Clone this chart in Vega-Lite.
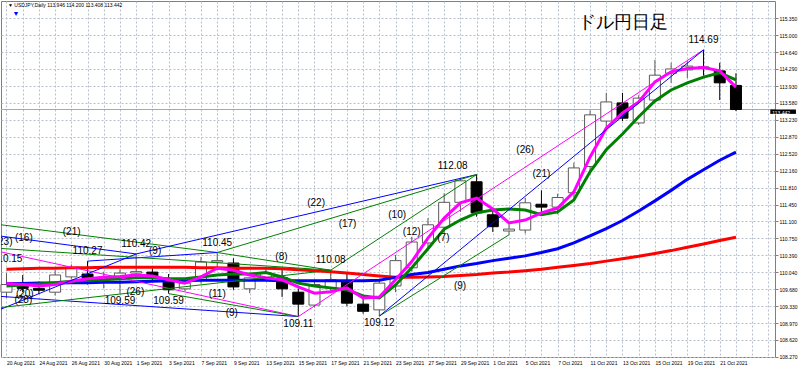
{
  "$schema": "https://vega.github.io/schema/vega-lite/v6.json",
  "width": 774,
  "height": 356,
  "autosize": {"type": "none"},
  "padding": {"left": 1, "top": 1, "right": 25, "bottom": 12},
  "background": "white",
  "config": {
    "view": {"stroke": "#7f7f7f", "strokeWidth": 1},
    "font": "Liberation Sans",
    "axis": {"gridColor": "#b7bfcc", "gridDash": [2, 2], "gridWidth": 1, "gridOpacity": 1, "domain": false, "labelFontSize": 5, "labelFont": "Liberation Sans", "labelColor": "#000000", "labelOverlap": false, "labelFlush": false, "labelBound": false, "title": null}
  },
  "datasets": {
    "c": [
      {"i":0,"d":"2021-08-20","o":109.62,"h":110.02,"l":109.50,"c":109.78,"m":109.80,"g":109.75,"b":109.80,"r":110.10},
      {"i":1,"d":"2021-08-23","o":109.80,"h":109.98,"l":109.62,"c":109.70,"m":109.78,"g":109.77,"b":109.80,"r":110.11},
      {"i":2,"d":"2021-08-24","o":109.70,"h":109.84,"l":109.58,"c":109.66,"m":109.75,"g":109.79,"b":109.81,"r":110.12},
      {"i":3,"d":"2021-08-25","o":109.62,"h":110.08,"l":109.55,"c":109.98,"m":109.78,"g":109.82,"b":109.81,"r":110.12},
      {"i":4,"d":"2021-08-26","o":109.94,"h":110.20,"l":109.90,"c":110.13,"m":109.85,"g":109.85,"b":109.82,"r":110.13},
      {"i":5,"d":"2021-08-27","o":110.00,"h":110.27,"l":109.78,"c":109.92,"m":109.90,"g":109.87,"b":109.82,"r":110.13},
      {"i":6,"d":"2021-08-30","o":109.88,"h":110.05,"l":109.70,"c":109.93,"m":109.93,"g":109.88,"b":109.83,"r":110.14},
      {"i":7,"d":"2021-08-31","o":109.92,"h":110.10,"l":109.59,"c":110.02,"m":109.95,"g":109.90,"b":109.83,"r":110.14},
      {"i":8,"d":"2021-09-01","o":110.02,"h":110.42,"l":109.92,"c":110.05,"m":109.98,"g":109.92,"b":109.84,"r":110.14},
      {"i":9,"d":"2021-09-02","o":110.04,"h":110.12,"l":109.86,"c":109.93,"m":109.96,"g":109.92,"b":109.85,"r":110.14},
      {"i":10,"d":"2021-09-03","o":109.87,"h":110.00,"l":109.59,"c":109.67,"m":109.88,"g":109.90,"b":109.86,"r":110.14},
      {"i":11,"d":"2021-09-06","o":109.69,"h":109.92,"l":109.65,"c":109.81,"m":109.81,"g":109.90,"b":109.86,"r":110.14},
      {"i":12,"d":"2021-09-07","o":109.88,"h":110.36,"l":109.80,"c":110.25,"m":109.94,"g":109.94,"b":109.87,"r":110.13},
      {"i":13,"d":"2021-09-08","o":110.25,"h":110.45,"l":110.15,"c":110.28,"m":110.12,"g":109.98,"b":109.87,"r":110.13},
      {"i":14,"d":"2021-09-09","o":110.23,"h":110.33,"l":109.67,"c":109.73,"m":110.08,"g":110.00,"b":109.87,"r":110.12},
      {"i":15,"d":"2021-09-10","o":109.69,"h":109.93,"l":109.60,"c":109.92,"m":109.98,"g":110.00,"b":109.87,"r":110.12},
      {"i":16,"d":"2021-09-13","o":109.90,"h":110.12,"l":109.85,"c":110.02,"m":109.92,"g":110.03,"b":109.87,"r":110.12},
      {"i":17,"d":"2021-09-14","o":109.92,"h":110.13,"l":109.52,"c":109.69,"m":109.88,"g":109.94,"b":109.86,"r":110.11},
      {"i":18,"d":"2021-09-15","o":109.62,"h":109.70,"l":109.11,"c":109.37,"m":109.73,"g":109.81,"b":109.86,"r":110.09},
      {"i":19,"d":"2021-09-16","o":109.35,"h":109.88,"l":109.30,"c":109.78,"m":109.60,"g":109.75,"b":109.86,"r":110.07},
      {"i":20,"d":"2021-09-17","o":109.71,"h":110.08,"l":109.65,"c":109.88,"m":109.63,"g":109.71,"b":109.86,"r":110.05},
      {"i":21,"d":"2021-09-20","o":109.83,"h":110.04,"l":109.33,"c":109.39,"m":109.71,"g":109.67,"b":109.86,"r":110.02},
      {"i":22,"d":"2021-09-21","o":109.37,"h":109.52,"l":109.17,"c":109.22,"m":109.50,"g":109.54,"b":109.86,"r":109.99},
      {"i":23,"d":"2021-09-22","o":109.25,"h":109.88,"l":109.12,"c":109.81,"m":109.52,"g":109.50,"b":109.87,"r":109.96},
      {"i":24,"d":"2021-09-23","o":109.75,"h":110.40,"l":109.62,"c":110.28,"m":109.88,"g":109.77,"b":109.93,"r":109.93},
      {"i":25,"d":"2021-09-24","o":110.13,"h":110.78,"l":110.05,"c":110.67,"m":110.26,"g":110.13,"b":109.99,"r":109.93},
      {"i":26,"d":"2021-09-27","o":110.65,"h":111.17,"l":110.55,"c":111.03,"m":110.75,"g":110.53,"b":110.03,"r":109.94},
      {"i":27,"d":"2021-09-28","o":110.98,"h":111.69,"l":110.85,"c":111.50,"m":111.17,"g":110.94,"b":110.10,"r":109.95},
      {"i":28,"d":"2021-09-29","o":111.50,"h":112.00,"l":111.30,"c":111.95,"m":111.49,"g":111.13,"b":110.17,"r":109.97},
      {"i":29,"d":"2021-09-30","o":111.93,"h":112.08,"l":111.20,"c":111.28,"m":111.59,"g":111.28,"b":110.22,"r":109.99},
      {"i":30,"d":"2021-10-01","o":111.24,"h":111.38,"l":110.88,"c":110.99,"m":111.36,"g":111.34,"b":110.28,"r":110.02},
      {"i":31,"d":"2021-10-04","o":110.90,"h":111.09,"l":110.82,"c":110.94,"m":111.07,"g":111.36,"b":110.33,"r":110.04},
      {"i":32,"d":"2021-10-05","o":110.92,"h":111.59,"l":110.85,"c":111.49,"m":111.13,"g":111.34,"b":110.38,"r":110.07},
      {"i":33,"d":"2021-10-06","o":111.46,"h":111.75,"l":111.28,"c":111.40,"m":111.28,"g":111.24,"b":110.45,"r":110.10},
      {"i":34,"d":"2021-10-07","o":111.40,"h":111.68,"l":111.25,"c":111.60,"m":111.38,"g":111.30,"b":110.53,"r":110.14},
      {"i":35,"d":"2021-10-08","o":111.70,"h":112.33,"l":111.60,"c":112.22,"m":111.72,"g":111.55,"b":110.65,"r":110.18},
      {"i":36,"d":"2021-10-11","o":112.25,"h":113.42,"l":112.10,"c":113.33,"m":112.45,"g":112.14,"b":110.80,"r":110.22},
      {"i":37,"d":"2021-10-12","o":113.20,"h":113.79,"l":113.05,"c":113.60,"m":113.05,"g":112.60,"b":110.95,"r":110.27},
      {"i":38,"d":"2021-10-13","o":113.58,"h":113.79,"l":113.20,"c":113.26,"m":113.37,"g":112.93,"b":111.12,"r":110.32},
      {"i":39,"d":"2021-10-14","o":113.16,"h":113.74,"l":113.12,"c":113.68,"m":113.60,"g":113.29,"b":111.32,"r":110.37},
      {"i":40,"d":"2021-10-15","o":113.64,"h":114.48,"l":113.60,"c":114.16,"m":114.02,"g":113.62,"b":111.53,"r":110.43},
      {"i":41,"d":"2021-10-18","o":114.20,"h":114.42,"l":114.00,"c":114.29,"m":114.23,"g":113.85,"b":111.75,"r":110.49},
      {"i":42,"d":"2021-10-19","o":114.27,"h":114.45,"l":114.10,"c":114.35,"m":114.30,"g":114.00,"b":111.98,"r":110.56},
      {"i":43,"d":"2021-10-20","o":114.33,"h":114.69,"l":114.15,"c":114.30,"m":114.32,"g":114.12,"b":112.18,"r":110.63},
      {"i":44,"d":"2021-10-21","o":114.25,"h":114.42,"l":113.64,"c":114.00,"m":114.25,"g":114.21,"b":112.38,"r":110.70},
      {"i":45,"d":"2021-10-22","o":113.946,"h":114.20,"l":113.408,"c":113.442,"m":113.91,"g":114.06,"b":112.55,"r":110.77}
    ],
    "tl": [
      {"g":"T1","c":"b","i":-7,"v":111.09},{"g":"T1","c":"b","i":8,"v":110.42},
      {"g":"T2","c":"g","i":-7,"v":111.32},{"g":"T2","c":"g","i":13,"v":110.45},
      {"g":"T3","c":"b","i":-9,"v":109.73},{"g":"T3","c":"b","i":18,"v":109.11},
      {"g":"T4","c":"m","i":-3,"v":110.66},{"g":"T4","c":"m","i":18,"v":109.11},
      {"g":"T5","c":"b","i":5,"v":110.27},{"g":"T5","c":"b","i":13,"v":110.45},
      {"g":"T6","c":"g","i":13,"v":110.45},{"g":"T6","c":"g","i":20,"v":110.08},
      {"g":"T7","c":"c","i":8,"v":110.42},{"g":"T7","c":"c","i":18,"v":109.11},
      {"g":"T8","c":"g","i":10,"v":109.59},{"g":"T8","c":"g","i":18,"v":109.11},
      {"g":"T9","c":"b","i":8,"v":110.42},{"g":"T9","c":"b","i":29,"v":112.08},
      {"g":"T10","c":"g","i":13,"v":110.45},{"g":"T10","c":"g","i":29,"v":112.08},
      {"g":"T11","c":"g","i":20,"v":110.08},{"g":"T11","c":"g","i":29,"v":112.08},
      {"g":"T12","c":"c","i":18,"v":109.11},{"g":"T12","c":"c","i":29,"v":112.08},
      {"g":"T13","c":"c","i":23,"v":109.12},{"g":"T13","c":"c","i":29,"v":112.08},
      {"g":"T14","c":"g","i":23,"v":109.12},{"g":"T14","c":"g","i":31,"v":110.82},
      {"g":"T15","c":"m","i":18,"v":109.11},{"g":"T15","c":"m","i":43,"v":114.69},
      {"g":"T16","c":"b","i":23,"v":109.12},{"g":"T16","c":"b","i":43,"v":114.69},
      {"g":"T17","c":"b","i":-5,"v":108.62},{"g":"T17","c":"b","i":8,"v":110.42},
      {"g":"T18","c":"c","i":-9,"v":110.9},{"g":"T18","c":"c","i":10,"v":109.59},
      {"g":"T19","c":"g","i":-5,"v":109.12},{"g":"T19","c":"g","i":20,"v":110.08},
      {"g":"T20","c":"g","i":-1,"v":110.55},{"g":"T20","c":"g","i":20,"v":110.08}
    ],
    "pv": [
      {"t":"110.27","i":5,"v":110.27,"k":"h"},
      {"t":"110.42","i":8,"v":110.42,"k":"h"},
      {"t":"109.59","i":7,"v":109.59,"k":"l"},
      {"t":"109.59","i":10,"v":109.59,"k":"l"},
      {"t":"110.45","i":13,"v":110.45,"k":"h"},
      {"t":"109.11","i":18,"v":109.11,"k":"l"},
      {"t":"110.08","i":20,"v":110.08,"k":"h"},
      {"t":"109.12","i":23,"v":109.12,"k":"l"},
      {"t":"112.08","i":29,"v":112.08,"k":"hr"},
      {"t":"114.69","i":43,"v":114.69,"k":"h"}
    ],
    "lab": [
      {"t":"(23)","i":-0.18,"v":110.67},
      {"t":"(16)","i":1.07,"v":110.754},
      {"t":"(21)","i":4.02,"v":110.88},
      {"t":"110.15","i":0.06,"v":110.31},
      {"t":"(20)","i":1.13,"v":109.58},
      {"t":"(28)","i":1.04,"v":109.46},
      {"t":"(26)","i":7.95,"v":109.62},
      {"t":"(9)","i":9.17,"v":110.48},
      {"t":"(11)","i":13.0,"v":109.58},
      {"t":"(9)","i":13.9,"v":109.18},
      {"t":"(8)","i":16.96,"v":110.36},
      {"t":"(22)","i":19.1,"v":111.48},
      {"t":"(17)","i":21.04,"v":111.05},
      {"t":"(10)","i":24.1,"v":111.24},
      {"t":"(12)","i":25.0,"v":110.88},
      {"t":"(7)","i":26.95,"v":110.75},
      {"t":"(9)","i":27.98,"v":109.75},
      {"t":"(26)","i":32.0,"v":112.6},
      {"t":"(21)","i":33.0,"v":112.09}
    ]
  },
  "layer": [
    {
      "data": {"name": "c"},
      "mark": {"type": "rule", "strokeWidth": 1},
      "encoding": {
        "x": {"field": "i", "type": "quantitative", "title": null, "scale": {"domain": [-0.03, 47.1], "nice": false, "zero": false},
          "axis": {"orient": "bottom", "values": [0,1,2,3,4,5,6,7,8,9,10,11,12,13,14,15,16,17,18,19,20,21,22,23,24,25,26,27,28,29,30,31,32,33,34,35,36,37,38,39,40,41,42,43,44,45,46,47], "grid": true, "ticks": false, "labelAlign": "left", "labelPadding": 3,
            "labelExpr": "datum.value % 2 == 0 ? ['20 Aug 2021','24 Aug 2021','26 Aug 2021','30 Aug 2021','1 Sep 2021','3 Sep 2021','7 Sep 2021','9 Sep 2021','13 Sep 2021','15 Sep 2021','17 Sep 2021','21 Sep 2021','23 Sep 2021','27 Sep 2021','29 Sep 2021','1 Oct 2021','5 Oct 2021','7 Oct 2021','11 Oct 2021','13 Oct 2021','15 Oct 2021','19 Oct 2021','21 Oct 2021','',''][datum.value / 2] : ''"}},
        "y": {"field": "l", "type": "quantitative", "title": null, "scale": {"domain": [108.264, 115.712], "nice": false, "zero": false},
          "axis": {"orient": "right", "values": [115.35,115.0,114.64,114.29,113.93,113.58,113.23,112.87,112.52,112.16,111.81,111.45,111.1,110.75,110.39,110.04,109.68,109.33,108.97,108.62,108.27], "format": ".3f", "grid": true, "ticks": true, "tickSize": 3, "tickColor": "#808080", "labelAlign": "left", "labelBaseline": "middle", "labelPadding": 1}},
        "y2": {"field": "h"},
        "color": {"condition": {"test": "datum.c >= datum.o", "value": "#5a5a5a"}, "value": "#000000"}
      }
    },
    {
      "data": {"values": [{"v": 113.442}]},
      "mark": {"type": "rule", "color": "#a8a8a8", "strokeWidth": 1},
      "encoding": {"y": {"field": "v", "type": "quantitative", "title": null, "scale": {"domain": [108.264, 115.712], "nice": false, "zero": false},
        "axis": {"orient": "right", "values": [115.35,115.0,114.64,114.29,113.93,113.58,113.23,112.87,112.52,112.16,111.81,111.45,111.1,110.75,110.39,110.04,109.68,109.33,108.97,108.62,108.27], "format": ".3f", "grid": true, "ticks": true, "tickSize": 3, "tickColor": "#808080", "labelAlign": "left", "labelBaseline": "middle", "labelPadding": 1}}}
    },
    {
      "data": {"name": "c"},
      "mark": {"type": "bar", "size": 11, "strokeWidth": 1},
      "encoding": {
        "x": {"field": "i", "type": "quantitative", "title": null, "scale": {"domain": [-0.03, 47.1], "nice": false, "zero": false},
          "axis": {"orient": "bottom", "values": [0,1,2,3,4,5,6,7,8,9,10,11,12,13,14,15,16,17,18,19,20,21,22,23,24,25,26,27,28,29,30,31,32,33,34,35,36,37,38,39,40,41,42,43,44,45,46,47], "grid": true, "ticks": false, "labelAlign": "left", "labelPadding": 3,
            "labelExpr": "datum.value % 2 == 0 ? ['20 Aug 2021','24 Aug 2021','26 Aug 2021','30 Aug 2021','1 Sep 2021','3 Sep 2021','7 Sep 2021','9 Sep 2021','13 Sep 2021','15 Sep 2021','17 Sep 2021','21 Sep 2021','23 Sep 2021','27 Sep 2021','29 Sep 2021','1 Oct 2021','5 Oct 2021','7 Oct 2021','11 Oct 2021','13 Oct 2021','15 Oct 2021','19 Oct 2021','21 Oct 2021','',''][datum.value / 2] : ''"}},
        "y": {"field": "o", "type": "quantitative", "title": null, "scale": {"domain": [108.264, 115.712], "nice": false, "zero": false},
          "axis": {"orient": "right", "values": [115.35,115.0,114.64,114.29,113.93,113.58,113.23,112.87,112.52,112.16,111.81,111.45,111.1,110.75,110.39,110.04,109.68,109.33,108.97,108.62,108.27], "format": ".3f", "grid": true, "ticks": true, "tickSize": 3, "tickColor": "#808080", "labelAlign": "left", "labelBaseline": "middle", "labelPadding": 1}},
        "y2": {"field": "c"},
        "fill": {"condition": {"test": "datum.c >= datum.o", "value": "#ffffff"}, "value": "#000000"},
        "stroke": {"condition": {"test": "datum.c >= datum.o", "value": "#5a5a5a"}, "value": "#000000"}
      }
    },
    {
      "data": {"name": "c"},
      "transform": [{"fold": ["r", "b", "g", "m"], "as": ["s", "y"]}],
      "mark": {"type": "line", "strokeWidth": 3, "clip": true},
      "encoding": {
        "x": {"field": "i", "type": "quantitative", "title": null, "scale": {"domain": [-0.03, 47.1], "nice": false, "zero": false},
          "axis": {"orient": "bottom", "values": [0,1,2,3,4,5,6,7,8,9,10,11,12,13,14,15,16,17,18,19,20,21,22,23,24,25,26,27,28,29,30,31,32,33,34,35,36,37,38,39,40,41,42,43,44,45,46,47], "grid": true, "ticks": false, "labelAlign": "left", "labelPadding": 3,
            "labelExpr": "datum.value % 2 == 0 ? ['20 Aug 2021','24 Aug 2021','26 Aug 2021','30 Aug 2021','1 Sep 2021','3 Sep 2021','7 Sep 2021','9 Sep 2021','13 Sep 2021','15 Sep 2021','17 Sep 2021','21 Sep 2021','23 Sep 2021','27 Sep 2021','29 Sep 2021','1 Oct 2021','5 Oct 2021','7 Oct 2021','11 Oct 2021','13 Oct 2021','15 Oct 2021','19 Oct 2021','21 Oct 2021','',''][datum.value / 2] : ''"}},
        "y": {"field": "y", "type": "quantitative", "title": null, "scale": {"domain": [108.264, 115.712], "nice": false, "zero": false},
          "axis": {"orient": "right", "values": [115.35,115.0,114.64,114.29,113.93,113.58,113.23,112.87,112.52,112.16,111.81,111.45,111.1,110.75,110.39,110.04,109.68,109.33,108.97,108.62,108.27], "format": ".3f", "grid": true, "ticks": true, "tickSize": 3, "tickColor": "#808080", "labelAlign": "left", "labelBaseline": "middle", "labelPadding": 1}},
        "detail": {"field": "s", "type": "nominal"},
        "color": {"field": "s", "type": "nominal", "scale": {"domain": ["r", "b", "g", "m", "tb", "tg", "tc", "tm"], "range": ["#ff0000", "#0000ff", "#008000", "#ff00ff", "#0000ff", "#008000", "#20a8a8", "#ff00ff"]}, "legend": null},
        "order": {"field": "i", "type": "quantitative"}
      }
    },
    {
      "data": {"name": "tl"},
      "mark": {"type": "line", "strokeWidth": 1, "clip": true},
      "encoding": {
        "x": {"field": "i", "type": "quantitative", "title": null, "scale": {"domain": [-0.03, 47.1], "nice": false, "zero": false},
          "axis": {"orient": "bottom", "values": [0,1,2,3,4,5,6,7,8,9,10,11,12,13,14,15,16,17,18,19,20,21,22,23,24,25,26,27,28,29,30,31,32,33,34,35,36,37,38,39,40,41,42,43,44,45,46,47], "grid": true, "ticks": false, "labelAlign": "left", "labelPadding": 3,
            "labelExpr": "datum.value % 2 == 0 ? ['20 Aug 2021','24 Aug 2021','26 Aug 2021','30 Aug 2021','1 Sep 2021','3 Sep 2021','7 Sep 2021','9 Sep 2021','13 Sep 2021','15 Sep 2021','17 Sep 2021','21 Sep 2021','23 Sep 2021','27 Sep 2021','29 Sep 2021','1 Oct 2021','5 Oct 2021','7 Oct 2021','11 Oct 2021','13 Oct 2021','15 Oct 2021','19 Oct 2021','21 Oct 2021','',''][datum.value / 2] : ''"}},
        "y": {"field": "v", "type": "quantitative", "title": null, "scale": {"domain": [108.264, 115.712], "nice": false, "zero": false},
          "axis": {"orient": "right", "values": [115.35,115.0,114.64,114.29,113.93,113.58,113.23,112.87,112.52,112.16,111.81,111.45,111.1,110.75,110.39,110.04,109.68,109.33,108.97,108.62,108.27], "format": ".3f", "grid": true, "ticks": true, "tickSize": 3, "tickColor": "#808080", "labelAlign": "left", "labelBaseline": "middle", "labelPadding": 1}},
        "detail": {"field": "g", "type": "nominal"},
        "color": {"field": "c", "type": "nominal", "scale": {"domain": ["r", "b", "g", "m", "tb", "tg", "tc", "tm"], "range": ["#ff0000", "#0000ff", "#008000", "#ff00ff", "#0000ff", "#008000", "#20a8a8", "#ff00ff"]}, "legend": null}
      }
    },
    {
      "data": {"name": "lab"},
      "mark": {"type": "text", "fontSize": 10, "font": "Liberation Sans", "color": "#000000", "align": "center", "baseline": "middle", "clip": true},
      "encoding": {
        "x": {"field": "i", "type": "quantitative", "title": null, "scale": {"domain": [-0.03, 47.1], "nice": false, "zero": false},
          "axis": {"orient": "bottom", "values": [0,1,2,3,4,5,6,7,8,9,10,11,12,13,14,15,16,17,18,19,20,21,22,23,24,25,26,27,28,29,30,31,32,33,34,35,36,37,38,39,40,41,42,43,44,45,46,47], "grid": true, "ticks": false, "labelAlign": "left", "labelPadding": 3,
            "labelExpr": "datum.value % 2 == 0 ? ['20 Aug 2021','24 Aug 2021','26 Aug 2021','30 Aug 2021','1 Sep 2021','3 Sep 2021','7 Sep 2021','9 Sep 2021','13 Sep 2021','15 Sep 2021','17 Sep 2021','21 Sep 2021','23 Sep 2021','27 Sep 2021','29 Sep 2021','1 Oct 2021','5 Oct 2021','7 Oct 2021','11 Oct 2021','13 Oct 2021','15 Oct 2021','19 Oct 2021','21 Oct 2021','',''][datum.value / 2] : ''"}},
        "y": {"field": "v", "type": "quantitative", "title": null, "scale": {"domain": [108.264, 115.712], "nice": false, "zero": false},
          "axis": {"orient": "right", "values": [115.35,115.0,114.64,114.29,113.93,113.58,113.23,112.87,112.52,112.16,111.81,111.45,111.1,110.75,110.39,110.04,109.68,109.33,108.97,108.62,108.27], "format": ".3f", "grid": true, "ticks": true, "tickSize": 3, "tickColor": "#808080", "labelAlign": "left", "labelBaseline": "middle", "labelPadding": 1}},
        "text": {"field": "t"}
      }
    },
    {
      "data": {"name": "pv"},
      "transform": [{"filter": "datum.k == 'h'"}],
      "mark": {"type": "text", "fontSize": 10, "font": "Liberation Sans", "color": "#000000", "align": "center", "baseline": "middle", "dy": -10},
      "encoding": {
        "x": {"field": "i", "type": "quantitative", "title": null, "scale": {"domain": [-0.03, 47.1], "nice": false, "zero": false},
          "axis": {"orient": "bottom", "values": [0,1,2,3,4,5,6,7,8,9,10,11,12,13,14,15,16,17,18,19,20,21,22,23,24,25,26,27,28,29,30,31,32,33,34,35,36,37,38,39,40,41,42,43,44,45,46,47], "grid": true, "ticks": false, "labelAlign": "left", "labelPadding": 3,
            "labelExpr": "datum.value % 2 == 0 ? ['20 Aug 2021','24 Aug 2021','26 Aug 2021','30 Aug 2021','1 Sep 2021','3 Sep 2021','7 Sep 2021','9 Sep 2021','13 Sep 2021','15 Sep 2021','17 Sep 2021','21 Sep 2021','23 Sep 2021','27 Sep 2021','29 Sep 2021','1 Oct 2021','5 Oct 2021','7 Oct 2021','11 Oct 2021','13 Oct 2021','15 Oct 2021','19 Oct 2021','21 Oct 2021','',''][datum.value / 2] : ''"}},
        "y": {"field": "v", "type": "quantitative", "title": null, "scale": {"domain": [108.264, 115.712], "nice": false, "zero": false},
          "axis": {"orient": "right", "values": [115.35,115.0,114.64,114.29,113.93,113.58,113.23,112.87,112.52,112.16,111.81,111.45,111.1,110.75,110.39,110.04,109.68,109.33,108.97,108.62,108.27], "format": ".3f", "grid": true, "ticks": true, "tickSize": 3, "tickColor": "#808080", "labelAlign": "left", "labelBaseline": "middle", "labelPadding": 1}},
        "text": {"field": "t"}
      }
    },
    {
      "data": {"name": "pv"},
      "transform": [{"filter": "datum.k == 'hr'"}],
      "mark": {"type": "text", "fontSize": 10, "font": "Liberation Sans", "color": "#000000", "align": "right", "baseline": "middle", "dx": -9, "dy": -9},
      "encoding": {
        "x": {"field": "i", "type": "quantitative", "title": null, "scale": {"domain": [-0.03, 47.1], "nice": false, "zero": false},
          "axis": {"orient": "bottom", "values": [0,1,2,3,4,5,6,7,8,9,10,11,12,13,14,15,16,17,18,19,20,21,22,23,24,25,26,27,28,29,30,31,32,33,34,35,36,37,38,39,40,41,42,43,44,45,46,47], "grid": true, "ticks": false, "labelAlign": "left", "labelPadding": 3,
            "labelExpr": "datum.value % 2 == 0 ? ['20 Aug 2021','24 Aug 2021','26 Aug 2021','30 Aug 2021','1 Sep 2021','3 Sep 2021','7 Sep 2021','9 Sep 2021','13 Sep 2021','15 Sep 2021','17 Sep 2021','21 Sep 2021','23 Sep 2021','27 Sep 2021','29 Sep 2021','1 Oct 2021','5 Oct 2021','7 Oct 2021','11 Oct 2021','13 Oct 2021','15 Oct 2021','19 Oct 2021','21 Oct 2021','',''][datum.value / 2] : ''"}},
        "y": {"field": "v", "type": "quantitative", "title": null, "scale": {"domain": [108.264, 115.712], "nice": false, "zero": false},
          "axis": {"orient": "right", "values": [115.35,115.0,114.64,114.29,113.93,113.58,113.23,112.87,112.52,112.16,111.81,111.45,111.1,110.75,110.39,110.04,109.68,109.33,108.97,108.62,108.27], "format": ".3f", "grid": true, "ticks": true, "tickSize": 3, "tickColor": "#808080", "labelAlign": "left", "labelBaseline": "middle", "labelPadding": 1}},
        "text": {"field": "t"}
      }
    },
    {
      "data": {"name": "pv"},
      "transform": [{"filter": "datum.k == 'l'"}],
      "mark": {"type": "text", "fontSize": 10, "font": "Liberation Sans", "color": "#000000", "align": "center", "baseline": "middle", "dy": 7},
      "encoding": {
        "x": {"field": "i", "type": "quantitative", "title": null, "scale": {"domain": [-0.03, 47.1], "nice": false, "zero": false},
          "axis": {"orient": "bottom", "values": [0,1,2,3,4,5,6,7,8,9,10,11,12,13,14,15,16,17,18,19,20,21,22,23,24,25,26,27,28,29,30,31,32,33,34,35,36,37,38,39,40,41,42,43,44,45,46,47], "grid": true, "ticks": false, "labelAlign": "left", "labelPadding": 3,
            "labelExpr": "datum.value % 2 == 0 ? ['20 Aug 2021','24 Aug 2021','26 Aug 2021','30 Aug 2021','1 Sep 2021','3 Sep 2021','7 Sep 2021','9 Sep 2021','13 Sep 2021','15 Sep 2021','17 Sep 2021','21 Sep 2021','23 Sep 2021','27 Sep 2021','29 Sep 2021','1 Oct 2021','5 Oct 2021','7 Oct 2021','11 Oct 2021','13 Oct 2021','15 Oct 2021','19 Oct 2021','21 Oct 2021','',''][datum.value / 2] : ''"}},
        "y": {"field": "v", "type": "quantitative", "title": null, "scale": {"domain": [108.264, 115.712], "nice": false, "zero": false},
          "axis": {"orient": "right", "values": [115.35,115.0,114.64,114.29,113.93,113.58,113.23,112.87,112.52,112.16,111.81,111.45,111.1,110.75,110.39,110.04,109.68,109.33,108.97,108.62,108.27], "format": ".3f", "grid": true, "ticks": true, "tickSize": 3, "tickColor": "#808080", "labelAlign": "left", "labelBaseline": "middle", "labelPadding": 1}},
        "text": {"field": "t"}
      }
    },
    {
      "data": {"values": [
        {"t": "ドル円日足", "i": 35.23, "v": 115.25, "k": "title"},
        {"t": "▼ USDJPY,Daily  113.946 114.200 113.408 113.442", "i": 0.09, "v": 115.628, "k": "head"},
        {"t": "▼", "i": 0.37, "v": 115.43, "k": "tri"}
      ]},
      "mark": {"type": "text", "align": "left", "baseline": "middle", "font": "Liberation Sans"},
      "encoding": {
        "x": {"field": "i", "type": "quantitative", "title": null, "scale": {"domain": [-0.03, 47.1], "nice": false, "zero": false},
          "axis": {"orient": "bottom", "values": [0,1,2,3,4,5,6,7,8,9,10,11,12,13,14,15,16,17,18,19,20,21,22,23,24,25,26,27,28,29,30,31,32,33,34,35,36,37,38,39,40,41,42,43,44,45,46,47], "grid": true, "ticks": false, "labelAlign": "left", "labelPadding": 3,
            "labelExpr": "datum.value % 2 == 0 ? ['20 Aug 2021','24 Aug 2021','26 Aug 2021','30 Aug 2021','1 Sep 2021','3 Sep 2021','7 Sep 2021','9 Sep 2021','13 Sep 2021','15 Sep 2021','17 Sep 2021','21 Sep 2021','23 Sep 2021','27 Sep 2021','29 Sep 2021','1 Oct 2021','5 Oct 2021','7 Oct 2021','11 Oct 2021','13 Oct 2021','15 Oct 2021','19 Oct 2021','21 Oct 2021','',''][datum.value / 2] : ''"}},
        "y": {"field": "v", "type": "quantitative", "title": null, "scale": {"domain": [108.264, 115.712], "nice": false, "zero": false},
          "axis": {"orient": "right", "values": [115.35,115.0,114.64,114.29,113.93,113.58,113.23,112.87,112.52,112.16,111.81,111.45,111.1,110.75,110.39,110.04,109.68,109.33,108.97,108.62,108.27], "format": ".3f", "grid": true, "ticks": true, "tickSize": 3, "tickColor": "#808080", "labelAlign": "left", "labelBaseline": "middle", "labelPadding": 1}},
        "text": {"field": "t"},
        "size": {"condition": [{"test": "datum.k == 'title'", "value": 18}, {"test": "datum.k == 'tri'", "value": 7}], "value": 5},
        "color": {"condition": {"test": "datum.k == 'tri'", "value": "#0000ff"}, "value": "#000000"},
        "font": {"condition": {"test": "datum.k == 'title'", "value": "Noto Sans CJK JP"}, "value": "Liberation Sans"}
      }
    },
    {
      "data": {"values": [{"t": "113.442", "a": 47.12, "b": 48.7, "v": 113.442, "v2": 113.35}]},
      "layer": [
        {
          "mark": {"type": "rect", "color": "#000000"},
          "encoding": {
            "x": {"field": "a", "type": "quantitative", "title": null, "scale": {"domain": [-0.03, 47.1], "nice": false, "zero": false},
              "axis": {"orient": "bottom", "values": [0,1,2,3,4,5,6,7,8,9,10,11,12,13,14,15,16,17,18,19,20,21,22,23,24,25,26,27,28,29,30,31,32,33,34,35,36,37,38,39,40,41,42,43,44,45,46,47], "grid": true, "ticks": false, "labelAlign": "left", "labelPadding": 3,
                "labelExpr": "datum.value % 2 == 0 ? ['20 Aug 2021','24 Aug 2021','26 Aug 2021','30 Aug 2021','1 Sep 2021','3 Sep 2021','7 Sep 2021','9 Sep 2021','13 Sep 2021','15 Sep 2021','17 Sep 2021','21 Sep 2021','23 Sep 2021','27 Sep 2021','29 Sep 2021','1 Oct 2021','5 Oct 2021','7 Oct 2021','11 Oct 2021','13 Oct 2021','15 Oct 2021','19 Oct 2021','21 Oct 2021','',''][datum.value / 2] : ''"}},
            "x2": {"field": "b"},
            "y": {"field": "v", "type": "quantitative", "title": null, "scale": {"domain": [108.264, 115.712], "nice": false, "zero": false},
              "axis": {"orient": "right", "values": [115.35,115.0,114.64,114.29,113.93,113.58,113.23,112.87,112.52,112.16,111.81,111.45,111.1,110.75,110.39,110.04,109.68,109.33,108.97,108.62,108.27], "format": ".3f", "grid": true, "ticks": true, "tickSize": 3, "tickColor": "#808080", "labelAlign": "left", "labelBaseline": "middle", "labelPadding": 1}},
            "y2": {"field": "v2"}
          }
        },
        {
          "mark": {"type": "text", "fontSize": 5, "font": "Liberation Sans", "color": "#ffffff", "align": "left", "baseline": "top", "dx": 2, "dy": 1},
          "encoding": {
            "x": {"field": "a", "type": "quantitative", "title": null, "scale": {"domain": [-0.03, 47.1], "nice": false, "zero": false},
              "axis": {"orient": "bottom", "values": [0,1,2,3,4,5,6,7,8,9,10,11,12,13,14,15,16,17,18,19,20,21,22,23,24,25,26,27,28,29,30,31,32,33,34,35,36,37,38,39,40,41,42,43,44,45,46,47], "grid": true, "ticks": false, "labelAlign": "left", "labelPadding": 3,
                "labelExpr": "datum.value % 2 == 0 ? ['20 Aug 2021','24 Aug 2021','26 Aug 2021','30 Aug 2021','1 Sep 2021','3 Sep 2021','7 Sep 2021','9 Sep 2021','13 Sep 2021','15 Sep 2021','17 Sep 2021','21 Sep 2021','23 Sep 2021','27 Sep 2021','29 Sep 2021','1 Oct 2021','5 Oct 2021','7 Oct 2021','11 Oct 2021','13 Oct 2021','15 Oct 2021','19 Oct 2021','21 Oct 2021','',''][datum.value / 2] : ''"}},
            "y": {"field": "v", "type": "quantitative", "title": null, "scale": {"domain": [108.264, 115.712], "nice": false, "zero": false},
              "axis": {"orient": "right", "values": [115.35,115.0,114.64,114.29,113.93,113.58,113.23,112.87,112.52,112.16,111.81,111.45,111.1,110.75,110.39,110.04,109.68,109.33,108.97,108.62,108.27], "format": ".3f", "grid": true, "ticks": true, "tickSize": 3, "tickColor": "#808080", "labelAlign": "left", "labelBaseline": "middle", "labelPadding": 1}},
            "text": {"field": "t"}
          }
        }
      ]
    }
  ]
}
